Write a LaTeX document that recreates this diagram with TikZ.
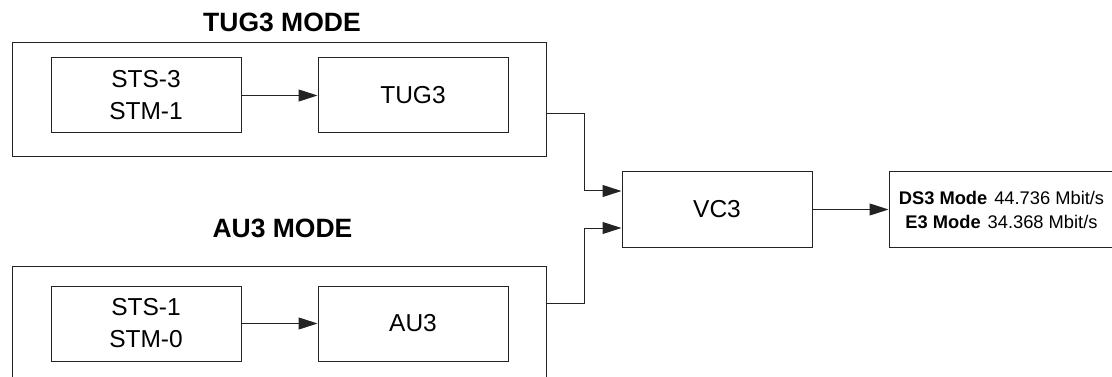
\documentclass[tikz,border=0pt]{standalone}
\usepackage{fontspec}
\setmainfont{Liberation Sans}
\usetikzlibrary{positioning, arrows.meta, calc}
\definecolor{cLine}{RGB}{35,35,35}

\begin{document}
\begin{tikzpicture}[x=1pt, y=-1pt, line width=1pt, >={Triangle[length=19pt, width=12pt]},
    blk/.style={draw=cLine, minimum width=190pt, minimum height=75pt, inner sep=0pt, align=center, font=\fontsize{24.5}{32}\selectfont},
    frame/.style={draw=cLine, minimum width=533.5pt, minimum height=114pt, inner sep=0pt},
    title/.style={font=\fontsize{26.5}{30}\selectfont\bfseries}]
    \clip (0,0) rectangle (1112,377);

    % TUG3 mode
    \node[title] (T1) at (282,22) {TUG3 MODE};
    \node[frame] (F1) at (279.25,100) {};
    \node[blk] (S1) at (146,95.5) {STS-3\\STM-1};
    \node[blk] (G1) at (413,95.5) {TUG3};

    % AU3 mode
    \node[title] (T2) at (282.5,228) {AU3 MODE};
    \node[frame] (F2) at (279.25,323) {};
    \node[blk] (S2) at (146,323.5) {STS-1\\STM-0};
    \node[blk] (A2) at (413,323.5) {AU3};

    % payload and rates
    \node[blk] (V) at (717,209.5) {VC3};
    \node[blk, minimum width=225pt, font=\fontsize{18.3}{24}\selectfont] (R) at (1001.5,209.5)
        {\textbf{DS3 Mode}\hspace{7pt}44.736 Mbit/s\\\textbf{E3 Mode}\hspace{7pt}34.368 Mbit/s};

    \draw[->, cLine] (S1) -- (G1);
    \draw[->, cLine] (S2) -- (A2);
    \draw[->, cLine] ($(F1.east)+(0,14)$) -- ++(38,0) |- ($(V.west)+(0,-18.5)$);
    \draw[->, cLine] ($(F2.east)+(0,-20)$) -- ++(38,0) |- ($(V.west)+(0,18.5)$);
    \draw[->, cLine] (V) -- (R);
\end{tikzpicture}
\end{document}
